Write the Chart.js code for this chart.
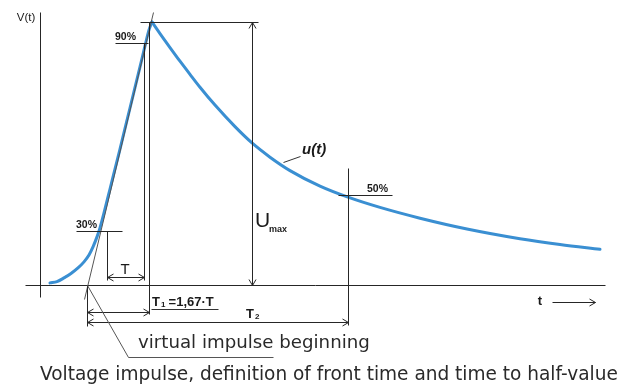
<!DOCTYPE html>
<html>
<head>
<meta charset="utf-8">
<script src="https://cdn.jsdelivr.net/npm/chart.js@4/dist/chart.umd.min.js"></script>
<style>
html,body{margin:0;padding:0;background:#fff;}
#wrap{width:632px;height:390px;}
</style>
</head>
<body>
<div id="wrap"><canvas id="c" width="632" height="390"></canvas></div>
<script>
// time (arbitrary units) and voltage (% of peak on the picture's scale)
const riseT = [1.0,1.7,2.4,3.1,3.8,4.4,4.9,5.3,5.7,6.0,6.4,7.0,8.0,9.0,10.0,10.5,10.9,11.2];
const riseV = [0.8,1.3,2.7,4.4,6.5,8.8,11.4,14.5,18.3,21.7,27.4,36.5,51.7,67.3,82.9,90.9,97.0,100];
const decayT = [11.2,12.0,13.0,14.0,15.0,16.0,17.5,19.5,21.2,23.0,25.0,28.0,30.8,34.0,38.0,42.7,48.0,52.0,56.0];
const decayV = [100,95.6,90.3,85.1,80.1,75.2,68.4,60.2,54.0,48.6,43.5,37.6,33.4,29.5,25.4,21.3,17.6,15.4,13.6];

// marker levels and times
const levelNames = ['90%','30%','50%'];
const levelV = [92.0, 20.5, 34.2];
const peakV = 100;
const tVirtual = 4.7;   // virtual impulse beginning
const t30 = 6.7;        // time at 30% marker
const t90 = 10.4;       // time at 90% marker
const tT1 = 10.9;       // end of T1
const tT2 = 30.8;       // end of T2
const tUmax = 21.2;     // Umax arrow
const captionText = 'Voltage impulse, definition of front time and time to half-value';
const virtualText = 'virtual impulse beginning';

const risePts = riseT.map((t,i)=>({x:t,y:riseV[i]}));
const decayPts = decayT.map((t,i)=>({x:t,y:decayV[i]}));

const annot = {
  id:'annot',
  afterDatasetsDraw(chart){
    const ctx = chart.ctx;
    const xs = chart.scales.x, ys = chart.scales.y;
    const X = v => xs.getPixelForValue(v), Y = v => ys.getPixelForValue(v);
    const ink = '#262626';
    function seg(t1,v1,t2,v2,color,w){
      const o = 0.5*((w||1)%2);
      ctx.save();
      ctx.strokeStyle = color||ink; ctx.lineWidth = w||1;
      ctx.beginPath();
      ctx.moveTo(Math.round(X(t1))+o, Math.round(Y(v1))+o);
      ctx.lineTo(Math.round(X(t2))+o, Math.round(Y(v2))+o);
      ctx.stroke(); ctx.restore();
    }
    function head(t,v,dir){
      const px = Math.round(X(t))+0.5, py = Math.round(Y(v))+0.5, L=6, H=3.5;
      ctx.save(); ctx.strokeStyle=ink; ctx.lineWidth=1; ctx.beginPath();
      if(dir==='l'){ctx.moveTo(px+L,py-H);ctx.lineTo(px,py);ctx.lineTo(px+L,py+H);}
      if(dir==='r'){ctx.moveTo(px-L,py-H);ctx.lineTo(px,py);ctx.lineTo(px-L,py+H);}
      if(dir==='u'){ctx.moveTo(px-H,py+L);ctx.lineTo(px,py);ctx.lineTo(px+H,py+L);}
      if(dir==='d'){ctx.moveTo(px-H,py-L);ctx.lineTo(px,py);ctx.lineTo(px+H,py-L);}
      ctx.stroke(); ctx.restore();
    }
    function text(s,t,v,font,align,base,color){
      ctx.save(); ctx.font=font; ctx.fillStyle=color||'#1a1a1a';
      ctx.textAlign=align||'left'; ctx.textBaseline=base||'middle';
      ctx.fillText(s,X(t),Y(v)); ctx.restore();
    }
    function fitText(s,t,v,tEnd,family,color){
      ctx.save();
      const target = X(tEnd)-X(t);
      ctx.font = '20px '+family;
      const w = ctx.measureText(s).width;
      const size = 20*target/w;
      ctx.font = size.toFixed(2)+'px '+family;
      ctx.fillStyle=color; ctx.textAlign='left'; ctx.textBaseline='middle';
      ctx.fillText(s,X(t),Y(v)); ctx.restore();
    }

    // axes
    seg(0,103.8,0,-4.6);
    seg(-1.5,0,56.5,0);
    // front line through 30% and 90%
    seg(4.36,-5.3,11.3,103.8,'#555',1);
    // peak line
    seg(10.0,peakV,21.8,peakV);
    // Umax arrow
    seg(tUmax,peakV,tUmax,0); head(tUmax,peakV,'u'); head(tUmax,0,'d');
    // 90% level
    seg(7.5,levelV[0],10.8,levelV[0]);
    seg(t90,levelV[0],t90,1.9);
    seg(tT1,peakV,tT1,-11.0);
    // 30% level
    seg(3.6,levelV[1],8.2,levelV[1]);
    seg(t30,levelV[1],t30,1.9);
    // T arrow
    seg(t30,3.0,t90,3.0); head(t30,3.0,'l'); head(t90,3.0,'r');
    // 50% level, T2 vertical
    seg(29.8,levelV[2],35.2,levelV[2]);
    seg(tT2,44.5,tT2,-15.2);
    // virtual origin vertical
    seg(tVirtual,0,tVirtual,-15.6);
    // T1 and T2 arrows
    seg(tVirtual,-10.3,tT1,-10.3); head(tVirtual,-10.3,'l'); head(tT1,-10.3,'r');
    seg(tVirtual,-14.1,tT2,-14.1); head(tVirtual,-14.1,'l'); head(tT2,-14.1,'r');
    // t arrow
    seg(51.2,-6.5,55.5,-6.5); head(55.5,-6.5,'r');
    // leaders
    seg(tVirtual,0,8.8,-27.4,'#555',1);
    seg(8.8,-27.4,23.3,-27.4,'#555',1);
    seg(24.3,46.8,26.0,49.0,'#333',1);
    // T1 underline
    seg(11.1,-9.1,17.8,-9.1,'#333',1);

    // texts
    const F = '"Liberation Sans", Arial, sans-serif';
    text('V(t)',-1.4,101.5,'11.5px '+F,'center');
    text(levelNames[0],7.5,levelV[0]+0.4,'bold 10.5px '+F,'left','bottom');
    text(levelNames[1],3.6,levelV[1]+0.4,'bold 10.5px '+F,'left','bottom');
    text(levelNames[2],32.7,levelV[2]+0.4,'bold 10.5px '+F,'left','bottom');
    text('u(t)',26.2,51.3,'italic bold 15px '+F,'left');
    text('U',21.5,24.3,'21px '+F,'left');
    text('max',22.9,21.0,'bold 9px '+F,'left');
    text('T',8.5,5.7,'15px '+F,'center');
    text('T',11.2,-6.5,'bold 13px '+F,'left');
    text('1',12.1,-7.6,'bold 8px '+F,'left');
    text(' =1,67·T',12.5,-6.5,'bold 13px '+F,'left');
    text('T',20.6,-11.0,'bold 13px '+F,'left');
    text('2',21.5,-12.1,'bold 8px '+F,'left');
    text('t',50.0,-6.1,'bold 13px '+F,'center');
    fitText(virtualText,9.8,-22.1,33.0,'"DejaVu Sans", sans-serif','#2a2a2a');
    fitText(captionText,0,-34.2,57.8,'"DejaVu Sans", sans-serif','#2a2a2a');
  }
};

const curveStyle = {showLine:true, borderColor:'#3a8fd2', borderWidth:3, pointRadius:0,
  cubicInterpolationMode:'monotone', clip:false, borderJoinStyle:'round', borderCapStyle:'round'};

new Chart(document.getElementById('c'),{
  type:'scatter',
  data:{datasets:[
    Object.assign({label:'u(t) front', data:risePts}, curveStyle),
    Object.assign({label:'u(t) tail', data:decayPts}, curveStyle)
  ]},
  options:{
    responsive:false, animation:false, devicePixelRatio:1,
    layout:{padding:{left:40,right:27,top:22,bottom:105}},
    plugins:{legend:{display:false},tooltip:{enabled:false}},
    scales:{
      x:{type:'linear',min:0,max:56.5,display:false},
      y:{type:'linear',min:0,max:100,display:false}
    }
  },
  plugins:[annot]
});
</script>
</body>
</html>
